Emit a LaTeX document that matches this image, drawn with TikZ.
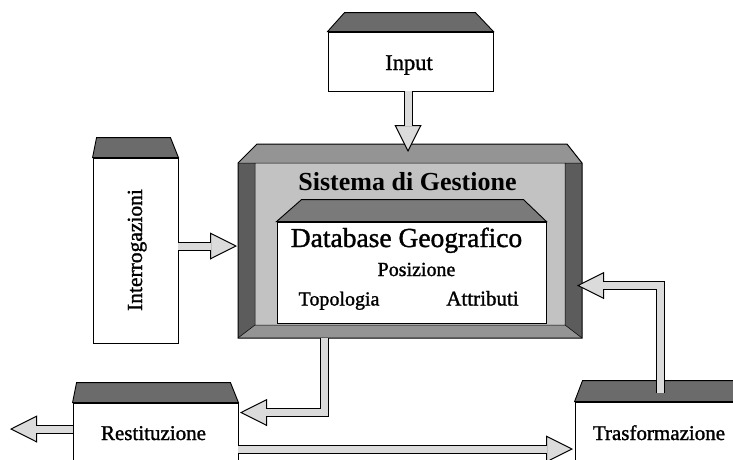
\documentclass[tikz,border=0pt]{standalone}
\usepackage{fontspec}
\setmainfont{Liberation Serif}
\newfontfamily\heavyserif[FakeBold=1.3]{Liberation Serif}
\usetikzlibrary{arrows.meta,calc}

\definecolor{bevelgray}{gray}{0.42}
\definecolor{bandgray}{gray}{0.58}
\definecolor{sidegray}{gray}{0.36}
\definecolor{facegray}{gray}{0.76}
\definecolor{dbgray}{gray}{0.48}
\definecolor{arrowgray}{gray}{0.86}

\tikzset{
  box/.style={draw, line width=0.9pt, fill=white, inner sep=0pt},
  bevel/.style={draw, fill=bevelgray, line width=0.9pt, line join=miter},
  lbl/.style={anchor=base, inner sep=0pt, font=\heavyserif\fontsize{20}{24}\selectfont},
  shaft/.style={line width=1pt, double=arrowgray, double distance=7pt, line join=miter},
  head/.style={line width=1pt, -{Triangle[width=27pt,length=27pt,fill=arrowgray,line width=1pt]}},
}

\begin{document}
\begin{tikzpicture}[x=1pt,y=-1pt]
\useasboundingbox (0,0) rectangle (733,459);
\clip (0,0) rectangle (733,459);

% ---- management system frame ----
\node[inner sep=0pt, minimum width=344pt, minimum height=194pt] (gest) at (410,241) {};
\fill[bandgray] (257,144) -- (567,144) -- (582,163) -- (238,163) -- cycle;
\fill[bandgray] (238,338) -- (255,325) -- (565,325) -- (582,338) -- cycle;
\fill[sidegray] (238,163) -- (255,163) -- (255,325) -- (238,338) -- cycle;
\fill[sidegray] (565,163) -- (582,163) -- (582,338) -- (565,325) -- cycle;
\fill[facegray] (255,163) rectangle (565,325);
\draw[line width=0.5pt] (238,163) -- (582,163)
  (255,163) -- (255,325) -- (565,325) -- (565,163)
  (255,325) -- (238,338) (565,325) -- (582,338);
\draw[line width=1pt, line join=miter]
  (257,144) -- (567,144) -- (582,163) -- (582,338) -- (238,338) -- (238,163) -- cycle;
\node[lbl, font=\bfseries\fontsize{26}{30}\selectfont] (tsist) at (407.5,190) {Sistema di Gestione};

% ---- geographic database ----
\node[box, minimum width=269pt, minimum height=101pt] (db) at (411.5,272.5) {};
\filldraw[bevel, fill=dbgray] ($(db.north west)+(25,-22)$) -- ($(db.north east)+(-23,-22)$)
  -- (db.north east) -- (db.north west) -- cycle;
\node[lbl, font=\heavyserif\fontsize{27.5}{32}\selectfont] (tdb) at (406.5,247) {Database Geografico};
\node[lbl] (tpos) at (416.5,276) {Posizione};
\node[lbl] (ttop) at (339,305.5) {Topologia};
\node[lbl, font=\heavyserif\fontsize{21}{25}\selectfont] (tatt) at (482.5,305.5) {Attributi};

% ---- outer boxes ----
\node[box, minimum width=165pt, minimum height=59pt] (input) at (410.5,61.5) {};
\filldraw[bevel] ($(input.north west)+(17,-19)$) -- ($(input.north east)+(-18,-19)$)
  -- (input.north east) -- (input.north west) -- cycle;
\node[lbl, font=\heavyserif\fontsize{22.5}{27}\selectfont] (tinput) at (409,70) {Input};

\node[box, minimum width=85pt, minimum height=185pt] (interr) at (135.5,250.5) {};
\filldraw[bevel] ($(interr.north west)+(4,-20)$) -- ($(interr.north east)+(-8,-20)$)
  -- (interr.north east) -- (interr.north west) -- cycle;
\node[lbl, rotate=90, font=\heavyserif\fontsize{21.5}{26}\selectfont] (tinterr) at (142,250) {Interrogazioni};

\node[box, minimum width=165pt, minimum height=60pt] (restit) at (155.5,433) {};
\filldraw[bevel] ($(restit.north west)+(4,-20)$) -- ($(restit.north east)+(-8,-20)$)
  -- (restit.north east) -- (restit.north west) -- cycle;
\node[lbl, font=\heavyserif\fontsize{21}{25}\selectfont] (trest) at (153.5,440) {Restituzione};

\node[box, minimum width=168pt, minimum height=60pt] (trasf) at (659,432) {};
\filldraw[bevel] ($(trasf.north west)+(8,-21)$) -- ($(trasf.north east)+(-8,-21)$)
  -- (trasf.north east) -- (trasf.north west) -- cycle;
\node[lbl, font=\heavyserif\fontsize{21}{25}\selectfont] (ttrasf) at (659,440) {Trasformazione};

% ---- block arrows: tips, heads, then shafts ----
\coordinate (p1) at (408,152);
\coordinate (p2) at (237,246);
\coordinate (p3) at (240,412.5);
\coordinate (p4) at (10,429);
\coordinate (p5) at (573,449);
\coordinate (p6) at (577,285.5);
\coordinate (c3) at (324.5,0);
\coordinate (c6) at (660.5,393);

\draw[head] ($(p1)+(0,-27)$) -- (p1);
\draw[head] ($(p2)+(-27,0)$) -- (p2);
\draw[head] ($(p3)+(27,0)$) -- (p3);
\draw[head] ($(p4)+(27,0)$) -- (p4);
\draw[head] ($(p5)+(-27,0)$) -- (p5);
\draw[head] ($(p6)+(27,0)$) -- (p6);

\draw[shaft] (input.south -| p1) -- ($(p1)+(0,-26)$);
\draw[shaft] (interr.east |- p2) -- ($(p2)+(-26,0)$);
\draw[shaft] (gest.south -| c3) |- ($(p3)+(26,0)$);
\draw[shaft] (restit.west |- p4) -- ($(p4)+(26,0)$);
\draw[shaft] (restit.east |- p5) -- ($(p5)+(-26,0)$);
\draw[shaft] (c6) |- ($(p6)+(26,0)$);
\end{tikzpicture}
\end{document}
